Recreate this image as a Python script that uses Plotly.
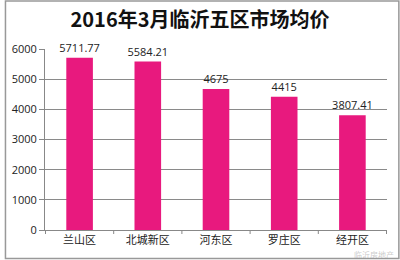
import plotly.graph_objects as go

categories = ["兰山区", "北城新区", "河东区", "罗庄区", "经开区"]
values = [5711.77, 5584.21, 4675, 4415, 3807.41]
labels = ["5711.77", "5584.21", "4675", "4415", "3807.41"]
y_ticks = [0, 1000, 2000, 3000, 4000, 5000, 6000]

W, H = 400, 260
ml, mr, mt, mb = 41, 13, 49, 30
pw, ph = W - ml - mr, H - mt - mb

fig = go.Figure(go.Bar(
    x=categories, y=values, text=labels, textposition="outside",
    constraintext="none",
    textfont=dict(size=11, color="#222", family="Open Sans, DejaVu Sans"),
    marker=dict(color="#E8197E", line=dict(width=0)),
    width=0.39, cliponaxis=False,
))

fig.update_layout(
    width=W, height=H, margin=dict(l=ml, r=mr, t=mt, b=mb),
    paper_bgcolor="white", plot_bgcolor="white", showlegend=False,
    title=dict(text="<b>2016年3月临沂五区市场均价</b>", x=0.5, xanchor="center",
               y=1 - 20 / H, yanchor="middle",
               font=dict(size=20, color="#111", family="Noto Sans CJK SC")),
    xaxis=dict(showline=True, linecolor="#888", linewidth=1, ticks="",
               tickfont=dict(size=11, color="#222", family="Noto Sans CJK SC")),
    yaxis=dict(range=[0, 6000], tickvals=y_ticks, showgrid=True, gridcolor="#8a8a8a",
               gridwidth=1, showline=True, linecolor="#888", ticks="outside",
               ticklen=5, tickcolor="#888", zeroline=False,
               tickfont=dict(size=11, color="#222", family="Open Sans, DejaVu Sans")),
    shapes=[
        dict(type="rect", xref="paper", yref="paper",
             x0=-(ml - 1) / pw, x1=1 + (mr - 1) / pw,
             y0=-(mb - 1.5) / ph, y1=1 + (mt - 1) / ph,
             line=dict(color="#999", width=1.5)),
    ] + [
        dict(type="line", xref="x", yref="paper", x0=i - 0.5, x1=i - 0.5,
             y0=0, y1=-4 / ph, line=dict(color="#888", width=1))
        for i in range(len(categories) + 1)
    ],
    annotations=[dict(text="临沂房地产", xref="paper", yref="paper",
                      x=1 + 9 / pw, y=-24 / ph, xanchor="right", yanchor="middle",
                      showarrow=False,
                      font=dict(size=8, color="rgba(150,150,150,0.5)",
                                family="Noto Sans CJK SC"))],
)

fig.write_html("out.html")
